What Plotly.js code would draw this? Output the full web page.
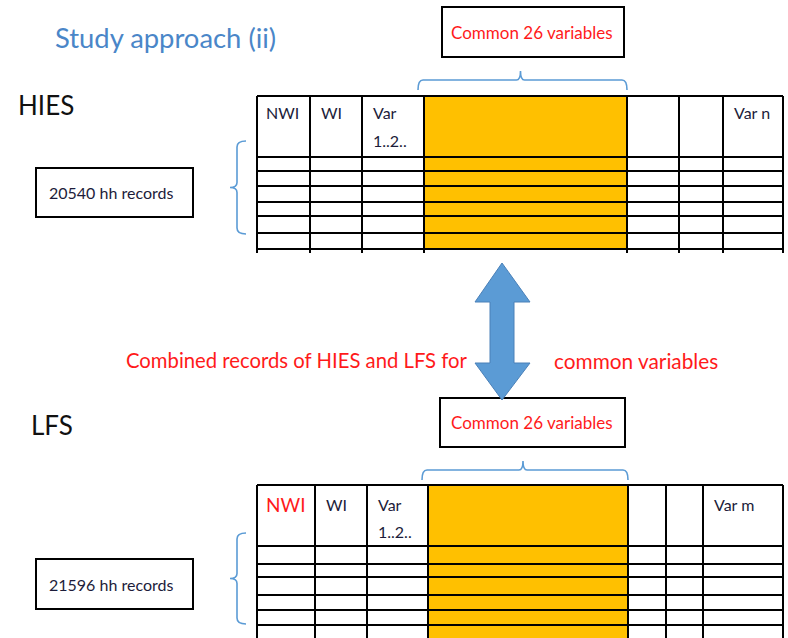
<!DOCTYPE html>
<html><head><meta charset="utf-8">
<script src="https://cdn.plot.ly/plotly-3.0.1.min.js"></script>
<style>html,body{margin:0;padding:0;background:#fff}#chart{width:788px;height:638px}</style>
</head><body><div id="chart"></div>
<script>
// ---- content ----
const titleText = "Study approach (ii)";
const surveyNames = ["HIES", "LFS"];
const recordCounts = [20540, 21596];
const commonVariableCount = 26;
const hiesColumnLabels = ["NWI", "WI", "Var<br>1..2..", "", "", "", "Var n"];
const lfsColumnLabels = ["NWI", "WI", "Var<br>1..2..", "", "", "", "Var m"];
const combinedText = ["Combined records of HIES and LFS for", "common variables"];

// ---- geometry (layout, in axis units = px) ----
const FONT = "Lato, Liberation Sans, sans-serif";
const BLUE = "#5b9bd5", ORANGE = "#ffc000", RED = "#ff1a1a", TXT = "#1c1c3a";
const tables = [
  {labels: hiesColumnLabels, cols: [257, 310, 362, 424, 627, 679, 723, 783], top: 96,
   rows: [157, 171, 186, 202, 216, 233, 249], bottomExt: 253, orangeCol: 3,
   labelY: [112, 140], firstLabelColor: TXT, firstLabelSize: 16,
   brace: [141, 234], box: [36, 168, 193, 217], label: [16, 105], common: [442, 7, 624, 57], bracketY: 80},
  {labels: lfsColumnLabels, cols: [257, 315, 367, 428, 628, 666, 703, 783], top: 485,
   rows: [546, 564, 577, 595, 610, 625, 641], bottomExt: 645, orangeCol: 3,
   labelY: [504, 531], firstLabelColor: RED, firstLabelSize: 19,
   brace: [533, 624], box: [36, 559, 193, 609], label: [29, 425], common: [440, 398, 625, 447], bracketY: 470}
];

const shapes = [], annotations = [];
const line = (x0, y0, x1, y1, w, c) => shapes.push({type: "line", xref: "x", yref: "y", x0, y0, x1, y1, line: {color: c || "#000", width: w || 2}});

annotations.push({xref: "x", yref: "y", x: 53, y: 37, xanchor: "left", yanchor: "middle", showarrow: false,
  text: titleText, font: {family: FONT, size: 27.4, color: "#4a86c8"}});

tables.forEach((t, i) => {
  const c = t.cols, last = t.rows[t.rows.length - 1];
  // orange common block
  shapes.push({type: "rect", xref: "x", yref: "y", x0: c[t.orangeCol], x1: c[t.orangeCol + 1], y0: t.top, y1: last,
    fillcolor: ORANGE, line: {width: 0}, layer: "below"});
  // horizontal lines
  [t.top].concat(t.rows).forEach(y => line(c[0], y, c[c.length - 1], y, 2.2));
  // vertical lines
  c.forEach(x => line(x, t.top, x, t.bottomExt, 2));
  // column labels (each line placed separately for the wide line spacing)
  t.labels.forEach((lab, k) => {
    if (!lab) return;
    lab.split("<br>").forEach((part, j) => {
      annotations.push({xref: "x", yref: "y", x: c[k] + (k === 0 ? 7 : 9), y: t.labelY[j], xanchor: "left", yanchor: "middle",
        showarrow: false, text: part,
        font: {family: FONT, size: k === 0 ? t.firstLabelSize : 16, color: k === 0 ? t.firstLabelColor : TXT}});
    });
  });
  // left brace
  const [b0, b1] = t.brace, bm = (b0 + b1) / 2;
  shapes.push({type: "path", xref: "x", yref: "y", line: {color: BLUE, width: 1.6},
    path: `M 246 ${b0} Q 237 ${b0} 237 ${b0 + 6} L 237 ${bm - 5} Q 237 ${bm} 230 ${bm} Q 237 ${bm} 237 ${bm + 5} L 237 ${b1 - 6} Q 237 ${b1} 246 ${b1}`});
  // records box
  const bx = t.box;
  shapes.push({type: "rect", xref: "x", yref: "y", x0: bx[0], y0: bx[1], x1: bx[2], y1: bx[3], line: {color: "#000", width: 2}});
  annotations.push({xref: "x", yref: "y", x: (bx[0] + bx[2]) / 2 - 4, y: (bx[1] + bx[3]) / 2, showarrow: false,
    text: recordCounts[i] + " hh records", font: {family: FONT, size: 16, color: TXT}});
  // survey label
  annotations.push({xref: "x", yref: "y", x: t.label[0], y: t.label[1], xanchor: "left", yanchor: "middle", showarrow: false,
    text: surveyNames[i], font: {family: FONT, size: 26, color: "#111"}});
  // common box
  const cb = t.common;
  shapes.push({type: "rect", xref: "x", yref: "y", x0: cb[0], y0: cb[1], x1: cb[2], y1: cb[3], line: {color: "#000", width: 2}});
  annotations.push({xref: "x", yref: "y", x: (cb[0] + cb[2]) / 2 - 1, y: (cb[1] + cb[3]) / 2, showarrow: false,
    text: "Common " + commonVariableCount + " variables", font: {family: FONT, size: 17, color: RED}});
  // top bracket over common columns
  const L = c[t.orangeCol] - 6, R = c[t.orangeCol + 1], by = t.bracketY, mx = (L + R) / 2 - 2;
  shapes.push({type: "path", xref: "x", yref: "y", line: {color: BLUE, width: 1.6},
    path: `M ${L} ${by + 10} Q ${L} ${by} ${L + 5} ${by} L ${mx - 4} ${by} Q ${mx} ${by} ${mx} ${by - 9} Q ${mx} ${by} ${mx + 4} ${by} L ${R - 5} ${by} Q ${R} ${by} ${R} ${by + 10}`});
});

// double arrow
shapes.push({type: "path", xref: "x", yref: "y", fillcolor: BLUE, line: {color: "#4a80b8", width: 1},
  path: "M 502 263 L 530 302 L 514 302 L 514 363 L 530 363 L 502 400 L 475 363 L 490 363 L 490 302 L 475 302 Z"});

annotations.push({xref: "x", yref: "y", x: 124, y: 360, xanchor: "left", yanchor: "middle", showarrow: false,
  text: combinedText[0], font: {family: FONT, size: 20.3, color: RED}});
annotations.push({xref: "x", yref: "y", x: 552, y: 360, xanchor: "left", yanchor: "middle", showarrow: false,
  text: combinedText[1], font: {family: FONT, size: 20.8, color: RED}});

Plotly.newPlot("chart", [], {
  width: 788, height: 638, margin: {l: 0, r: 0, t: 0, b: 0},
  paper_bgcolor: "#fff", plot_bgcolor: "#fff", showlegend: false,
  xaxis: {range: [0, 788], visible: false, fixedrange: true},
  yaxis: {range: [638, 0], visible: false, fixedrange: true},
  shapes, annotations
}, {staticPlot: true});
</script></body></html>
